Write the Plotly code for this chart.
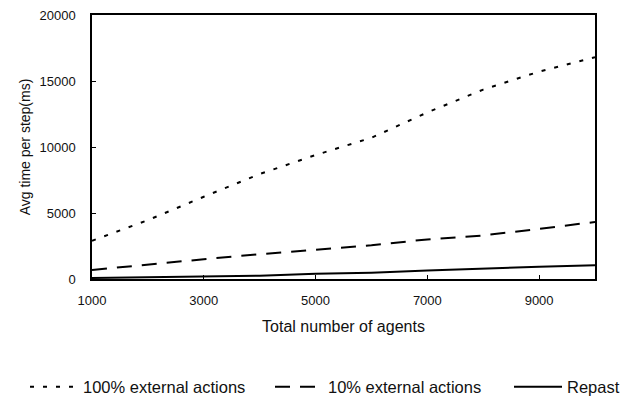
import plotly.graph_objects as go

agents = [1000, 2000, 3000, 4000, 5000, 6000, 7000, 8000, 9000, 10000]
ext100 = [2900, 4460, 6230, 7950, 9390, 10700, 12620, 14350, 15710, 16800]
ext10 = [680, 1100, 1500, 1880, 2230, 2560, 3000, 3300, 3800, 4320]
repast = [80, 150, 170, 250, 400, 480, 650, 760, 920, 1050]

x_ticks = [1000, 3000, 5000, 7000, 9000]
y_ticks = [0, 5000, 10000, 15000, 20000]

FONT = "Liberation Sans, Arial, sans-serif"
OFF = 8  # page body margin
W, H = 641 - OFF, 396 - OFF
L, R, T, B = 92 - OFF, 46, 15 - OFF, 117
PW, PH = W - L - R, H - T - B


def px_x(sx):
    return (sx - OFF - L) / PW


def px_y(sy):
    return (OFF + H - B - sy) / PH


fig = go.Figure()
fig.add_trace(go.Scatter(x=agents, y=ext100, mode="lines", name="100% external actions",
                         line=dict(color="black", width=2, dash="4px,9px"), legend="legend"))
fig.add_trace(go.Scatter(x=agents, y=ext10, mode="lines", name="10% external actions",
                         line=dict(color="black", width=2, dash="15px,10px"), legend="legend2"))
fig.add_trace(go.Scatter(x=agents, y=repast, mode="lines", name="Repast",
                         line=dict(color="black", width=2), legend="legend3"))

leg_common = dict(orientation="h", xanchor="left", yanchor="middle", y=px_y(387),
                  font=dict(size=16.5, color="#111"), itemwidth=48,
                  bgcolor="rgba(0,0,0,0)", borderwidth=0)

fig.update_layout(
    width=W, height=H,
    margin=dict(l=L, r=R, t=T, b=B, autoexpand=False),
    paper_bgcolor="white", plot_bgcolor="white",
    font=dict(family=FONT, size=13, color="#111"),
    showlegend=True,
    legend=dict(x=px_x(25), **leg_common),
    legend2=dict(x=px_x(270), **leg_common),
    legend3=dict(x=px_x(509), **leg_common),
    xaxis=dict(range=[1000, 10000], tickvals=x_ticks, ticktext=[str(v) for v in x_ticks],
               ticks="inside", ticklen=4, tickcolor="black", ticklabelstandoff=9,
               ticklabeloverflow="allow",
               showline=True, linecolor="black", linewidth=1.5, mirror=True,
               showgrid=False, zeroline=False,
               title=dict(text="Total number of agents", standoff=13)),
    yaxis=dict(range=[0, 20000], tickvals=y_ticks, ticktext=[str(v) for v in y_ticks],
               ticks="inside", ticklen=4, tickcolor="black", ticklabelstandoff=12,
               ticklabeloverflow="allow",
               showline=True, linecolor="black", linewidth=1.5, mirror=True,
               showgrid=False, zeroline=False,
               title=dict(text="Avg time per step(ms)", standoff=6, font=dict(size=14))),
)

fig.write_html("out.html")
